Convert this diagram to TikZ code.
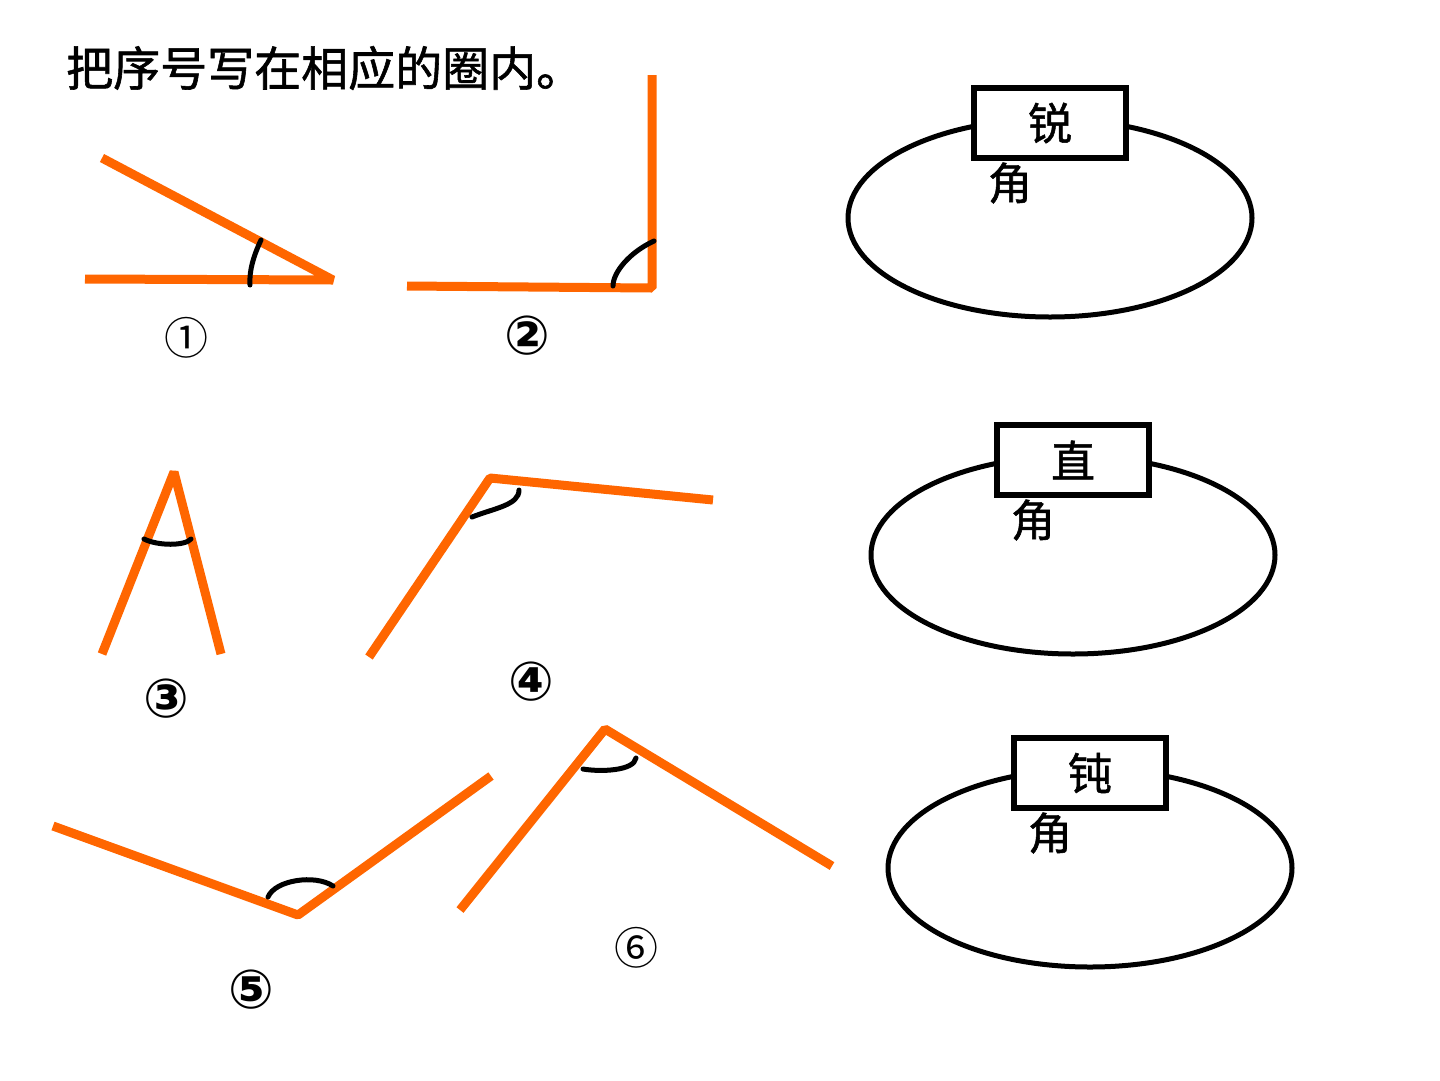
\documentclass[tikz,border=0pt]{standalone}
\usepackage{fontspec}
\newfontfamily\cjk{Noto Sans CJK SC}
\newfontfamily\cjkmed[FakeBold=1.2]{Noto Sans CJK SC}
\newfontfamily\symfont{DejaVu Sans}
\definecolor{angleorange}{RGB}{255,102,0}
\tikzset{
  ray/.style={draw=angleorange, line width=9pt, line join=bevel},
  arcmark/.style={draw=black, line width=5pt, line cap=round},
  ell/.style={draw=black, line width=5pt},
  catbox/.style={draw=black, line width=6pt, fill=white, minimum width=152pt, minimum height=70pt, inner sep=0pt, font=\cjkmed\fontsize{44}{44}\selectfont},
  jiao/.style={font=\cjkmed\fontsize{44}{44}\selectfont, inner sep=0pt},
  num/.style={font=\symfont\bfseries\fontsize{54}{54}\selectfont, inner sep=0pt},
  numthin/.style={font=\cjk\fontsize{44}{44}\selectfont, inner sep=0pt},
}
\begin{document}
\begin{tikzpicture}[x=1pt,y=-1pt]
\useasboundingbox (0,0) rectangle (1440,1080);
\fill[white] (0,0) rectangle (1440,1080);
% title
\node[anchor=west, font=\cjkmed\fontsize{47}{47}\selectfont, inner sep=0pt] (title) at (66,68) {把序号写在相应的圈内。};
% angle 1
\coordinate (a1v) at (333,280);
\coordinate (a1p) at (102,158);
\coordinate (a1q) at (85,279);
\draw[ray] (a1p) -- (a1v) -- (a1q);
\draw[arcmark] (261,240) .. controls (254,255) and (249,270) .. (250,285);
\node[numthin] (n1) at (186,338) {①};
% angle 2
\coordinate (a2v) at (652,288);
\coordinate (a2p) at (652,75);
\coordinate (a2q) at (407,286);
\draw[ray] (a2p) -- (a2v) -- (a2q);
\draw[arcmark] (654,241) .. controls (630,252) and (613,272) .. (613,286);
\node[num] (n2) at (527,336) {②};
% angle 3
\coordinate (a3v) at (174,472);
\coordinate (a3p) at (102,654);
\coordinate (a3q) at (221,654);
\draw[ray] (a3p) -- (a3v) -- (a3q);
\draw[arcmark] (144,539) .. controls (158,546) and (185,546) .. (191,539);
\node[num] (n3) at (166,699) {③};
% angle 4
\coordinate (a4v) at (490,478);
\coordinate (a4p) at (369,657);
\coordinate (a4q) at (713,500);
\draw[ray] (a4p) -- (a4v) -- (a4q);
\draw[arcmark] (519,490) .. controls (519,505) and (495,508) .. (472,517);
\node[num] (n4) at (531,682) {④};
% angle 5
\coordinate (a5v) at (298,915);
\coordinate (a5p) at (53,826);
\coordinate (a5q) at (491,776);
\draw[ray] (a5p) -- (a5v) -- (a5q);
\draw[arcmark] (268,897) .. controls (275,880) and (315,874) .. (333,886);
\node[num] (n5) at (251,990) {⑤};
% angle 6
\coordinate (a6v) at (605,729);
\coordinate (a6p) at (460,910);
\coordinate (a6q) at (832,866);
\draw[ray] (a6p) -- (a6v) -- (a6q);
\draw[arcmark] (583,769) .. controls (600,772) and (634,771) .. (636,758);
\node[numthin] (n6) at (636,948) {⑥};
% ellipses with boxes
\draw[ell] (1050,218) ellipse [x radius=202, y radius=99];
\node[catbox] (b1) at (1050,123) {锐};
\node[jiao] (j1) at (1010,183) {角};
\draw[ell] (1073,555) ellipse [x radius=202, y radius=99];
\node[catbox] (b2) at (1073,460) {直};
\node[jiao] (j2) at (1033,520) {角};
\draw[ell] (1090,868) ellipse [x radius=202, y radius=99];
\node[catbox] (b3) at (1090,773) {钝};
\node[jiao] (j3) at (1050,833) {角};
\end{tikzpicture}
\end{document}
